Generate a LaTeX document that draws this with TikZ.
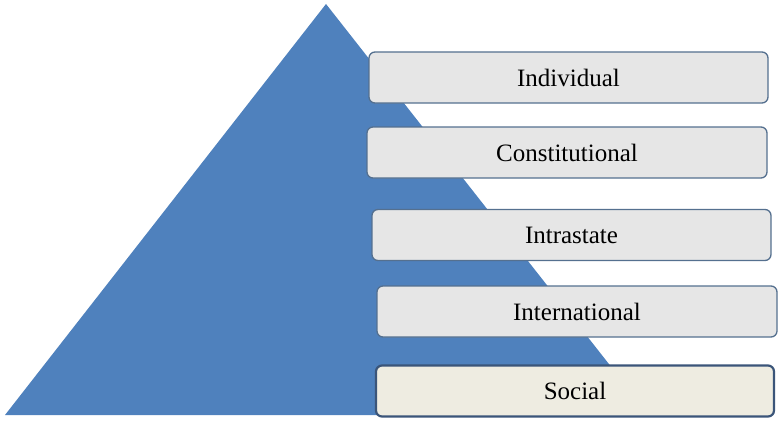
\documentclass[tikz,border=0pt]{standalone}
\usepackage{fontspec}
\setmainfont{Liberation Serif}
\definecolor{pyr}{HTML}{4F81BD}
\definecolor{boxfill}{HTML}{E6E6E6}
\definecolor{boxline}{HTML}{55708F}
\definecolor{socfill}{HTML}{EEECE1}
\definecolor{socline}{HTML}{3B5579}
\begin{document}
\begin{tikzpicture}[x=1pt,y=-1pt,
  level/.style={draw=boxline, line width=1.3pt, fill=boxfill, rounded corners=6pt,
    minimum height=51pt, inner sep=0pt, font=\fontsize{25}{28}\selectfont, text=black},
  base/.style={level, draw=socline, line width=2.2pt, fill=socfill}]
\useasboundingbox (0,0) rectangle (778,420);
\fill[pyr] (326,4) -- (649,415) -- (5,415) -- cycle;
\node[level, minimum width=399pt] (ind) at (568.5,77.5) {Individual};
\node[level, minimum width=400pt] (con) at (567,152.5) {Constitutional};
\node[level, minimum width=399pt] (intra) at (571.5,235) {Intrastate};
\node[level, minimum width=400pt] (inter) at (577,311.5) {International};
\node[base, minimum width=398pt, minimum height=51pt] (soc) at (575,391) {Social};
\end{tikzpicture}
\end{document}
